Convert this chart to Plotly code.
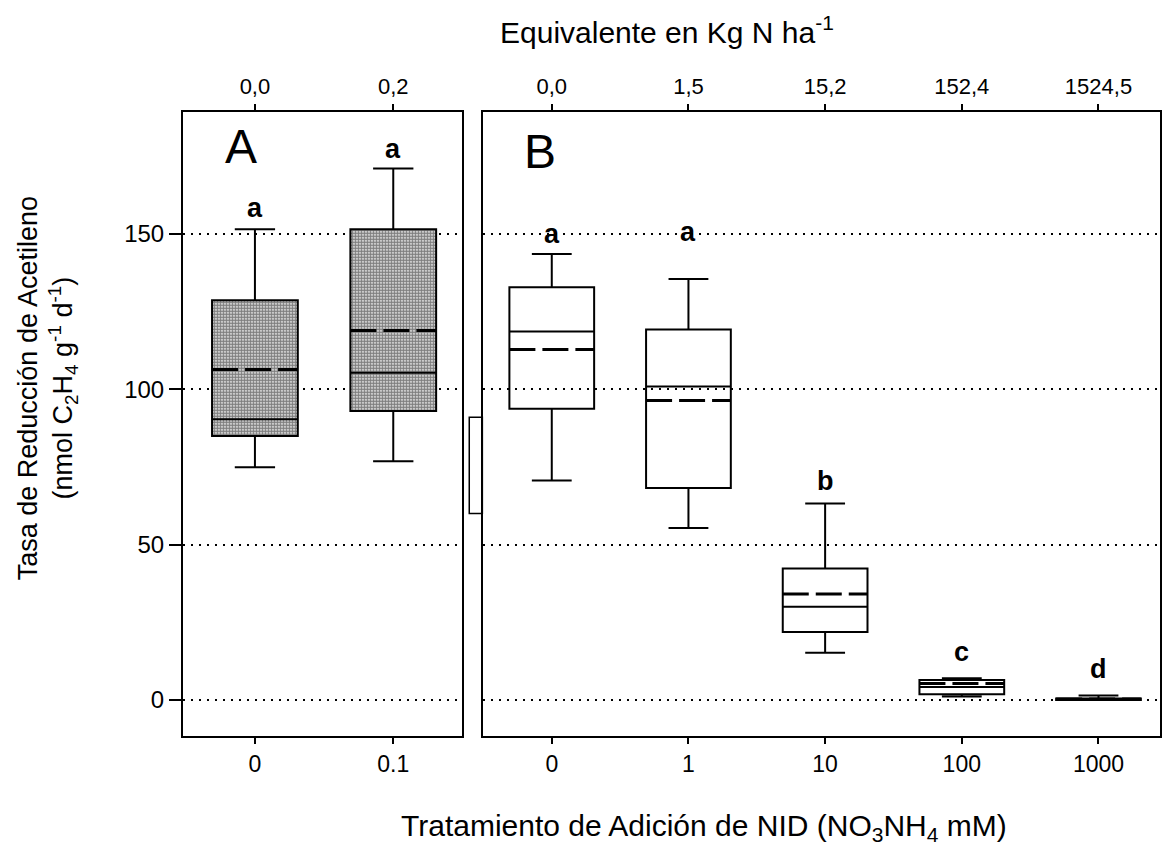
import plotly.graph_objects as go

# ---- data -------------------------------------------------------------
# Panel A: two treatments (stippled boxes)
a_labels = ["0", "0.1"]
a_top_labels = ["0,0", "0,2"]
a_low = [74.9, 76.8]
a_q1 = [84.9, 93.0]
a_median = [90.3, 105.3]
a_mean = [106.3, 118.9]
a_q3 = [128.6, 151.5]
a_high = [151.5, 171.0]
a_groups = ["a", "a"]

# Panel B: five treatments (open boxes)
b_labels = ["0", "1", "10", "100", "1000"]
b_top_labels = ["0,0", "1,5", "15,2", "152,4", "1524,5"]
b_low = [70.6, 55.3, 15.2, 1.1, 0.0]
b_q1 = [93.7, 68.2, 21.9, 1.8, 0.0]
b_median = [118.6, 100.9, 30.0, 4.2, 0.2]
b_mean = [112.8, 96.4, 34.1, 5.3, 0.3]
b_q3 = [132.8, 119.2, 42.3, 6.4, 0.5]
b_high = [143.5, 135.5, 63.2, 7.0, 1.4]
b_groups = ["a", "a", "b", "c", "d"]

y_ticks = [0, 50, 100, 150]

# ---- style ------------------------------------------------------------
FONT = "Liberation Sans, Arial, sans-serif"
BOXW = 0.62
WHISK = 0.47
group_shift_a = [21, 20]
group_shift_b = [20, 47, 23, 26, 27]

fig = go.Figure()


def add_panel(xa, ya, labels, low, q1, med, mean, q3, high, stipple):
    xs = list(range(len(labels)))
    if stipple:
        fig.add_trace(go.Bar(
            x=xs, y=[h - l for h, l in zip(q3, q1)], base=q1, width=BOXW,
            marker=dict(color="white", line=dict(width=0),
                        pattern=dict(shape=".", fgcolor="black", bgcolor="white",
                                     size=3, solidity=0.75)),
            xaxis=xa, yaxis=ya, showlegend=False, hoverinfo="skip"))
    fig.add_trace(go.Box(
        x=xs, q1=q1, median=med, q3=q3, lowerfence=low, upperfence=high,
        width=BOXW, whiskerwidth=WHISK, boxpoints=False,
        line=dict(color="black", width=2), fillcolor="rgba(0,0,0,0)",
        xaxis=xa, yaxis=ya, showlegend=False))
    mx, my = [], []
    for i, m in enumerate(mean):
        mx += [i - BOXW / 2, i + BOXW / 2, None]
        my += [m, m, None]
    fig.add_trace(go.Scatter(
        x=mx, y=my, mode="lines", line=dict(color="black", width=3, dash="26px,7px"),
        xaxis=xa, yaxis=ya, showlegend=False, hoverinfo="skip"))


add_panel("x", "y", a_labels, a_low, a_q1, a_median, a_mean, a_q3, a_high, True)
add_panel("x2", "y2", b_labels, b_low, b_q1, b_median, b_mean, b_q3, b_high, False)

# empty traces so the top (kg N/ha) axes are drawn
fig.add_trace(go.Scatter(x=[None], y=[None], xaxis="x3", yaxis="y", showlegend=False))
fig.add_trace(go.Scatter(x=[None], y=[None], xaxis="x4", yaxis="y2", showlegend=False))

# significance letters above each upper whisker
for i, (g, h) in enumerate(zip(a_groups, a_high)):
    fig.add_annotation(x=i, y=h, xref="x", yref="y", text=f"<b>{g}</b>", showarrow=False,
                       yanchor="middle", yshift=group_shift_a[i],
                       font=dict(family=FONT, size=27, color="black"))
for i, (g, h) in enumerate(zip(b_groups, b_high)):
    fig.add_annotation(x=i, y=h, xref="x2", yref="y2", text=f"<b>{g}</b>", showarrow=False,
                       yanchor="middle", yshift=group_shift_b[i],
                       font=dict(family=FONT, size=27, color="black"))

# panel letters
fig.add_annotation(x=0.0592, y=0.9455, xref="paper", yref="paper", text="A", showarrow=False,
                   xanchor="center", yanchor="middle",
                   font=dict(family=FONT, size=48, color="black"))
fig.add_annotation(x=0.3657, y=0.9375, xref="paper", yref="paper", text="B", showarrow=False,
                   xanchor="center", yanchor="middle",
                   font=dict(family=FONT, size=48, color="black"))

# titles
fig.add_annotation(x=0.5332, y=-0.1474, xref="paper", yref="paper", showarrow=False,
                   xanchor="center", yanchor="middle",
                   text="Tratamiento de Adición de NID (NO<sub>3</sub>NH<sub>4</sub> mM)",
                   font=dict(family=FONT, size=30, color="black"))
fig.add_annotation(x=0.4954, y=1.1314, xref="paper", yref="paper", showarrow=False,
                   xanchor="center", yanchor="middle",
                   text="Equivalente en Kg N ha<sup>-1</sup>",
                   font=dict(family=FONT, size=30, color="black"))
fig.add_annotation(x=-0.1379, y=0.5577, xref="paper", yref="paper", showarrow=False,
                   xanchor="center", yanchor="middle", textangle=-90,
                   text="Tasa de Reducción de Acetileno<br>(nmol C<sub>2</sub>H<sub>4</sub> g<sup>-1</sup> d<sup>-1</sup>)",
                   font=dict(family=FONT, size=27, color="black"))

# small bracket box between the panels
fig.add_shape(type="rect", xref="paper", yref="y", x0=0.293, x1=0.3064, y0=60, y1=91,
              line=dict(color="black", width=1.5), fillcolor="rgba(0,0,0,0)")

bottom_font = dict(family=FONT, size=23, color="black")
top_font = dict(family=FONT, size=22, color="black")
common_x = dict(showline=True, linecolor="black", linewidth=2, ticks="outside", ticklen=6,
                tickwidth=1.5, tickcolor="black", mirror="ticks", showgrid=False,
                zeroline=False, tickfont=bottom_font, fixedrange=True)
common_y = dict(range=[-11.6, 189.2], showline=True, linecolor="black", linewidth=2,
                mirror=True, showgrid=True, gridcolor="black", gridwidth=1.5,
                griddash="2px,6px", zeroline=False, tickvals=y_ticks)

fig.update_layout(
    width=1165, height=855,
    margin=dict(l=183, r=3, t=112, b=119),
    paper_bgcolor="white", plot_bgcolor="white",
    barmode="overlay", showlegend=False,
    xaxis=dict(domain=[0, 0.286], range=[-0.52, 1.5], tickvals=[0, 1],
               ticktext=a_labels, anchor="y", **common_x),
    xaxis2=dict(domain=[0.3075, 1], range=[-0.5, 4.45], tickvals=list(range(5)),
                ticktext=b_labels, anchor="y2", **common_x),
    xaxis3=dict(overlaying="x", side="top", range=[-0.52, 1.5], tickvals=[0, 1],
                ticktext=a_top_labels, anchor="y", showline=False, ticks="outside",
                ticklen=8, tickcolor="rgba(0,0,0,0)",
                showgrid=False, zeroline=False, tickfont=top_font),
    xaxis4=dict(overlaying="x2", side="top", range=[-0.5, 4.45], tickvals=list(range(5)),
                ticktext=b_top_labels, anchor="y2", showline=False, ticks="outside",
                ticklen=8, tickcolor="rgba(0,0,0,0)",
                showgrid=False, zeroline=False, tickfont=top_font),
    yaxis=dict(anchor="x", ticks="outside", ticklen=12, tickwidth=1.5, tickcolor="black",
               tickfont=dict(family=FONT, size=24, color="black"), **common_y),
    yaxis2=dict(anchor="x2", matches="y", showticklabels=False, ticks="", **common_y),
)

fig.write_html("out.html")
